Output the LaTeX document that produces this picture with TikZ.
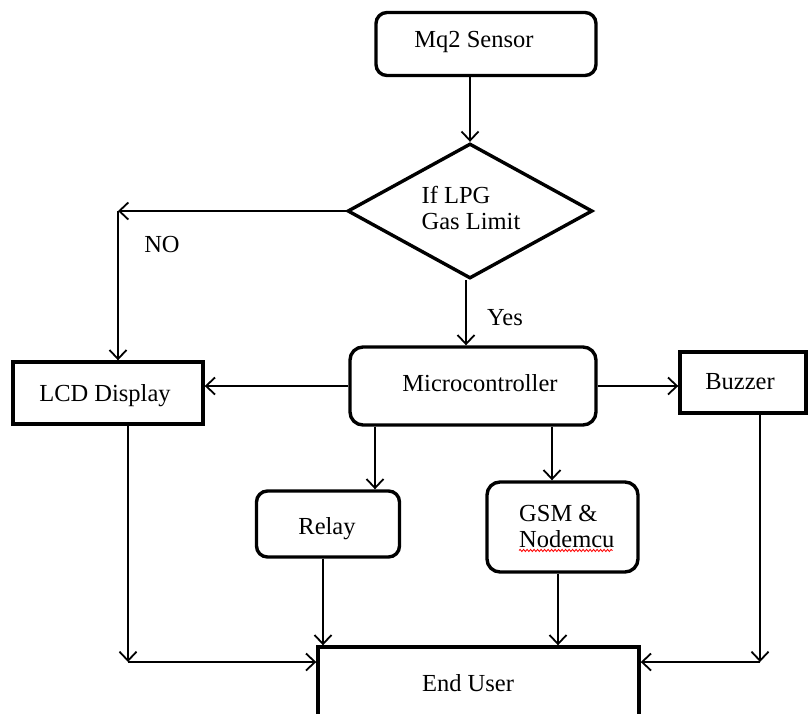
\documentclass[tikz,border=0pt]{standalone}
\usepackage{fontspec}
\setmainfont{Liberation Serif}
\usetikzlibrary{shapes.geometric,arrows.meta,decorations.pathmorphing,calc}
\begin{document}
\begin{tikzpicture}[x=1pt,y=-1pt,
  box/.style={draw=black,line width=3.4pt,inner sep=0pt},
  rbox/.style={box,rounded corners=11pt},
  txt/.style={inner sep=0pt,font=\fontsize{24.5}{26}\selectfont},
  arr/.style={draw=black,line width=1.8pt,-{Straight Barb[length=9pt,width=17pt,line width=1.8pt]}},
  conn/.style={draw=black,line width=1.8pt}]
\useasboundingbox (0,0) rectangle (808,713);
\clip (0,0) rectangle (808,713);
\fill[white] (0,0) rectangle (808,713);
% boxes
\node[rbox,minimum width=220pt,minimum height=63pt] (mq2) at (486,44) {};
\node[txt] (mq2t) at (474,42) {Mq2 Sensor};
\node[box,diamond,minimum width=245pt,minimum height=135pt,aspect=1.8] (dia) at (470,211) {};
\node[txt,align=left] (diat) at (471,208) {If LPG\\Gas Limit};
\node[box,minimum width=190pt,minimum height=62pt] (lcd) at (108,393) {};
\node[txt] (lcdt) at (105,396) {LCD Display};
\node[rbox,rounded corners=13pt,minimum width=246pt,minimum height=78pt] (micro) at (473,386) {};
\node[txt] (microt) at (480,383) {Microcontroller};
\node[box,minimum width=126pt,minimum height=61pt] (buzz) at (743,382.5) {};
\node[txt] (buzzt) at (740,382) {Buzzer};
\node[rbox,minimum width=143pt,minimum height=66pt] (relay) at (328,524) {};
\node[txt] (relayt) at (327,529) {Relay};
\node[rbox,rounded corners=13pt,minimum width=151pt,minimum height=90pt] (gsm) at (562.5,527) {};
\node[txt,align=left,anchor=west] (gsmt) at (519,526) {GSM \&\\Nodemcu};
\node[box,minimum width=321pt,minimum height=100pt] (eu) at (478.5,697) {};
\node[txt] (eut) at (468,683) {End User};
\node[txt] (no) at (162,245) {NO};
\node[txt] (yes) at (505,318) {Yes};
% spell-check underline
\draw[red,line width=0.8pt,decorate,decoration={snake,amplitude=1.1pt,segment length=3.5pt}]
  ([yshift=-3pt]gsmt.south west) -- ([yshift=-3pt,xshift=-2pt]gsmt.south east);
% connectors
\draw[arr] (dia.north |- mq2.south) -- (dia.north);
\draw[arr] ([xshift=-4pt]dia.south) -- ([xshift=-4pt]dia.south |- micro.north);
\coordinate (nocorner) at (118,211);
\draw[arr] (dia.west) -- (nocorner);
\draw[arr] (nocorner) -- (nocorner |- lcd.north);
\draw[arr] (micro.west) -- (micro.west -| lcd.east);
\draw[arr] (micro.east) -- (micro.east -| buzz.west);
\draw[arr] ([xshift=47pt]relay.north |- micro.south) -- ([xshift=47pt]relay.north);
\draw[arr] ([xshift=-10.5pt]gsm.north |- micro.south) -- ([xshift=-10.5pt]gsm.north);
\draw[arr] ([xshift=-5pt]relay.south) -- ([xshift=-5pt]relay.south |- eu.north);
\draw[arr] ([xshift=-4.5pt]gsm.south) -- ([xshift=-4.5pt]gsm.south |- eu.north);
\coordinate (lcdcorner) at (128,662);
\draw[arr] (lcd.south -| lcdcorner) -- (lcdcorner);
\draw[arr] (lcdcorner) -- (lcdcorner -| eu.west);
\coordinate (buzzcorner) at (760,662);
\draw[arr] (buzz.south -| buzzcorner) -- (buzzcorner);
\draw[arr] (buzzcorner) -- (buzzcorner -| eu.east);
\end{tikzpicture}
\end{document}
